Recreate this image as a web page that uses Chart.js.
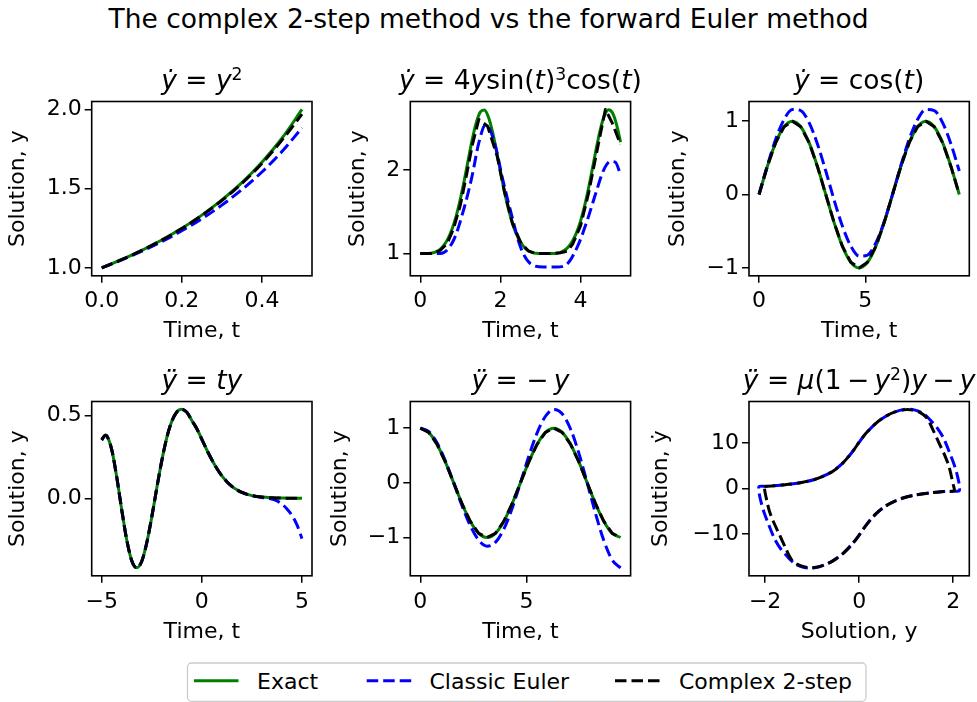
<!DOCTYPE html>
<html>
<head>
<meta charset="utf-8">
<script src="https://cdn.jsdelivr.net/npm/chart.js@4.4.1/dist/chart.umd.min.js"></script>
<style>
  html, body { margin: 0; padding: 0; background: #fff; }
  body { width: 977px; height: 702px; position: relative; overflow: hidden; font-family: "DejaVu Sans", sans-serif; }
  .panel { position: absolute; }
  #overlay { position: absolute; left: 0; top: 0; pointer-events: none; }
</style>
</head>
<body>
<svg id="overlay" width="977" height="702" xmlns="http://www.w3.org/2000/svg" font-family="DejaVu Sans, sans-serif">
  <text x="488.5" y="28.3" text-anchor="middle" font-size="26.5" fill="#000">The complex 2-step method vs the forward Euler method</text>
  <g id="legend"></g>
</svg>
<script>
const seriesNames = ['Exact', 'Classic Euler', 'Complex 2-step'];

// dy/dt = y^2
const t1 = [0, 0.05, 0.1, 0.15, 0.2, 0.25, 0.3, 0.35, 0.4, 0.45, 0.5];
const exact1 = [1.0, 1.053, 1.111, 1.176, 1.25, 1.333, 1.429, 1.538, 1.667, 1.818, 2.0];
const euler1 = [1.0, 1.05, 1.105, 1.166, 1.234, 1.31, 1.396, 1.494, 1.605, 1.734, 1.884];
const step1 = [1.0, 1.052, 1.11, 1.175, 1.248, 1.331, 1.425, 1.533, 1.659, 1.806, 1.97];

// dy/dt = 4y sin(t)^3 cos(t)
const t2 = [0, 0.1, 0.2, 0.3, 0.4, 0.5, 0.6, 0.7, 0.8, 0.9, 1.0, 1.1, 1.2, 1.3, 1.4, 1.5, 1.6, 1.7, 1.8, 1.9,
  2.0, 2.1, 2.2, 2.3, 2.4, 2.5, 2.6, 2.7, 2.8, 2.9, 3.0, 3.1, 3.2, 3.3, 3.4, 3.5, 3.6, 3.7, 3.8, 3.9,
  4.0, 4.1, 4.2, 4.3, 4.4, 4.5, 4.6, 4.7, 4.8, 4.9, 5.0];
const exact2 = [1.0, 1.0001, 1.0016, 1.0077, 1.0233, 1.0543, 1.107, 1.188, 1.3032, 1.4572,
  1.651, 1.8793, 2.1269, 2.368, 2.5678, 2.6912, 2.7137, 2.6303, 2.4582, 2.2297,
  1.981, 1.7423, 1.5331, 1.3624, 1.2314, 1.1369, 1.0732, 1.0339, 1.0127, 1.0033,
  1.0004, 1.0, 1.0, 1.0006, 1.0043, 1.0153, 1.0391, 1.082, 1.1504, 1.2508,
  1.3882, 1.5657, 1.7807, 2.0229, 2.2705, 2.4921, 2.6512, 2.7174, 2.6771, 2.5387, 2.3293];
const tEuler2 = [0, 0.3, 0.5, 0.83, 1.08, 1.29, 1.46, 1.63, 1.83, 2.08, 2.29, 2.5, 2.75, 3.08, 3.4, 3.65, 3.92, 4.17, 4.38, 4.58, 4.75, 4.87, 5.0];
const euler2 = [1.0, 1.0, 1.0, 1.16, 1.52, 1.92, 2.32, 2.54, 2.36, 1.84, 1.44, 1.08, 0.88, 0.84, 0.84, 0.87, 1.08, 1.4, 1.72, 2.0, 2.1, 2.09, 1.94];
const tStep2 = [0, 0.33, 0.5, 0.67, 0.83, 1.0, 1.15, 1.3, 1.46, 1.68, 1.92, 2.1, 2.3, 2.5, 2.7, 2.9, 3.2, 3.5, 3.67, 3.8, 4.0, 4.2, 4.4, 4.62, 4.79, 5.0];
const step2 = [1.0, 1.0, 1.04, 1.12, 1.3, 1.58, 1.93, 2.3, 2.6, 2.52, 2.16, 1.74, 1.36, 1.14, 1.03, 1.0, 1.0, 1.01, 1.03, 1.11, 1.33, 1.72, 2.2, 2.72, 2.56, 2.3];

// dy/dt = cos(t)
const t3 = [0, 0.393, 0.785, 1.178, 1.571, 1.963, 2.356, 2.749, 3.142, 3.534, 3.927, 4.32, 4.712,
  5.105, 5.498, 5.89, 6.283, 6.676, 7.069, 7.461, 7.854, 8.247, 8.639, 9.032, 9.425];
const exact3 = [0, 0.383, 0.707, 0.924, 1, 0.924, 0.707, 0.383, 0, -0.383, -0.707, -0.924, -1,
  -0.924, -0.707, -0.383, 0, 0.383, 0.707, 0.924, 1, 0.924, 0.707, 0.383, 0];
const euler3 = [0, 0.395, 0.754, 1.023, 1.16, 1.145, 0.98, 0.69, 0.32, -0.075, -0.434, -0.703, -0.84,
  -0.825, -0.66, -0.371, 0, 0.395, 0.754, 1.023, 1.16, 1.145, 0.98, 0.69, 0.32];
const step3 = [0, 0.383, 0.707, 0.924, 1, 0.924, 0.707, 0.383, 0, -0.383, -0.707, -0.924, -1,
  -0.924, -0.707, -0.383, 0, 0.383, 0.707, 0.924, 1, 0.924, 0.707, 0.383, 0];

// d2y/dt2 = t y
const t4 = [-5, -4.82, -4.75, -4.5, -4.25, -4, -3.75, -3.5, -3.25, -3, -2.75, -2.5, -2.25, -2, -1.75, -1.5,
  -1.25, -1.02, -0.75, -0.5, -0.25, 0, 0.25, 0.5, 0.75, 1, 1.25, 1.5, 1.75, 2, 2.5, 3, 3.5, 4, 4.5, 5];
const exact4 = [0.351, 0.38, 0.376, 0.293, 0.128, -0.07, -0.251, -0.376, -0.419, -0.379, -0.268, -0.112, 0.062, 0.227, 0.365, 0.464,
  0.52, 0.536, 0.518, 0.468, 0.419, 0.355, 0.291, 0.232, 0.179, 0.135, 0.1, 0.072, 0.051, 0.035, 0.016, 0.007, 0.003, 0.001, 0.0003, 0.0001];
const tEuler4 = [-5, -4.82, -4.75, -4.5, -4.25, -4, -3.75, -3.5, -3.25, -3, -2.75, -2.5, -2.25, -2, -1.75, -1.5,
  -1.25, -1.02, -0.75, -0.5, -0.25, 0, 0.25, 0.5, 0.75, 1, 1.25, 1.5, 1.75, 2, 2.5, 3, 3.5, 3.75, 4, 4.25, 4.5, 4.75, 5];
const euler4 = [0.351, 0.38, 0.376, 0.293, 0.128, -0.07, -0.251, -0.376, -0.419, -0.379, -0.268, -0.112, 0.062, 0.227, 0.365, 0.464,
  0.52, 0.536, 0.518, 0.468, 0.419, 0.355, 0.291, 0.232, 0.179, 0.135, 0.1, 0.072, 0.051, 0.035, 0.016, 0.005, -0.005, -0.016, -0.035, -0.064, -0.103, -0.16, -0.243];
const step4 = [0.351, 0.38, 0.376, 0.293, 0.128, -0.07, -0.251, -0.376, -0.419, -0.379, -0.268, -0.112, 0.062, 0.227, 0.365, 0.464,
  0.52, 0.536, 0.518, 0.468, 0.419, 0.355, 0.291, 0.232, 0.179, 0.135, 0.1, 0.072, 0.051, 0.035, 0.016, 0.007, 0.003, 0.001, 0.0003, 0.0001];

// d2y/dt2 = -y
const t5 = t3;
const exact5 = [1, 0.924, 0.707, 0.383, 0, -0.383, -0.707, -0.924, -1, -0.924, -0.707, -0.383, 0,
  0.383, 0.707, 0.924, 1, 0.924, 0.707, 0.383, 0, -0.383, -0.707, -0.924, -1];
const euler5 = [1, 0.941, 0.734, 0.404, 0, -0.42, -0.79, -1.051, -1.159, -1.091, -0.85, -0.469, 0,
  0.486, 0.916, 1.219, 1.344, 1.264, 0.986, 0.543, 0, -0.564, -1.061, -1.413, -1.557];
const step5 = [1, 0.924, 0.707, 0.383, 0, -0.383, -0.707, -0.924, -1, -0.924, -0.707, -0.383, 0,
  0.383, 0.707, 0.924, 1, 0.924, 0.707, 0.383, 0, -0.383, -0.707, -0.924, -1];

// Van der Pol phase plane (y, dy/dt)
const y6 = [-2.02, -1.8, -1.5, -1.2, -0.95, -0.75, -0.55, -0.35, -0.15, 0, 0.15, 0.35, 0.55, 0.75, 0.95, 1.1, 1.3, 1.45, 1.57, 1.7, 1.83, 1.91, 1.96, 2.0, 2.02,
  1.8, 1.5, 1.2, 0.95, 0.75, 0.55, 0.35, 0.15, 0, -0.15, -0.35, -0.55, -0.75, -0.95, -1.1, -1.3, -1.45, -1.57, -1.7, -1.83, -1.91, -1.96, -2.0, -2.02, -2.02];
const v6 = [0.5, 0.65, 0.95, 1.4, 2.0, 2.8, 3.9, 5.6, 8.0, 10.2, 12.2, 14.3, 15.8, 16.8, 17.3, 17.3, 16.7, 15.4, 12.9, 10.0, 7.1, 4.9, 2.8, 0.9, -0.45,
  -0.65, -0.95, -1.4, -2.0, -2.8, -3.9, -5.6, -8.0, -10.2, -12.2, -14.3, -15.8, -16.8, -17.3, -17.3, -16.7, -15.4, -12.9, -10.0, -7.1, -4.9, -2.8, -0.9, 0.45, 0.5];
const yEuler6 = [-2.02, -1.8, -1.5, -1.2, -0.95, -0.75, -0.55, -0.35, -0.15, 0, 0.15, 0.35, 0.55, 0.75, 0.95, 1.17, 1.35, 1.52, 1.67, 1.8, 1.92, 2.02, 2.09, 2.13, 2.13, 2.05,
  1.8, 1.5, 1.2, 0.95, 0.75, 0.55, 0.35, 0.15, 0, -0.15, -0.35, -0.55, -0.75, -0.95, -1.17, -1.35, -1.52, -1.67, -1.8, -1.92, -2.02, -2.09, -2.13, -2.13, -2.05, -2.02];
const vEuler6 = [0.5, 0.65, 0.95, 1.4, 2.0, 2.8, 3.9, 5.6, 8.0, 10.2, 12.2, 14.3, 15.8, 16.8, 17.4, 17.3, 16.6, 15.0, 13.2, 11.0, 8.0, 5.3, 2.8, 0.8, -0.45, -0.55,
  -0.65, -0.95, -1.4, -2.0, -2.8, -3.9, -5.6, -8.0, -10.2, -12.2, -14.3, -15.8, -16.8, -17.4, -17.3, -16.6, -15.0, -13.2, -11.0, -8.0, -5.3, -2.8, -0.8, 0.45, 0.55, 0.5];

// ticks
const xTicks = [[0, 0.2, 0.4], [0, 2, 4], [0, 5], [-5, 0, 5], [0, 5], [-2, 0, 2]];
const xTickLabels = [['0.0', '0.2', '0.4'], ['0', '2', '4'], ['0', '5'], ['\u22125', '0', '5'], ['0', '5'], ['\u22122', '0', '2']];
const yTicks = [[1, 1.5, 2], [1, 2], [-1, 0, 1], [0, 0.5], [-1, 0, 1], [-10, 0, 10]];
const yTickLabels = [['1.0', '1.5', '2.0'], ['1', '2'], ['\u22121', '0', '1'], ['0.0', '0.5'], ['\u22121', '0', '1'], ['\u221210', '0', '10']];
const xRanges = [[-0.025, 0.525], [-0.25, 5.25], [-0.471, 9.896], [-5.5, 5.5], [-0.471, 9.896], [-2.343, 2.343]];
const yRanges = [[0.95, 2.05], [0.7355, 2.8145], [-1.108, 1.268], [-0.467, 0.583], [-1.702, 1.489], [-19.14, 19.14]];
const xTitles = ['Time, t', 'Time, t', 'Time, t', 'Time, t', 'Time, t', 'Solution, y'];
const yTitles = ['Solution, y', 'Solution, y', 'Solution, y', 'Solution, y', 'Solution, y', 'Solution, \u1E8F'];
// subplot titles as [text, style] runs: n = upright, i = italic, sup = superscript
const titles = [
  [['\u1E8F', 'i'], [' = ', 'n'], ['y', 'i'], ['2', 'sup']],
  [['\u1E8F', 'i'], [' = 4', 'n'], ['y', 'i'], ['sin(', 'n'], ['t', 'i'], [')', 'n'], ['3', 'sup'], ['cos(', 'n'], ['t', 'i'], [')', 'n']],
  [['\u1E8F', 'i'], [' = cos(', 'n'], ['t', 'i'], [')', 'n']],
  [['\u00FF', 'i'], [' = ', 'n'], ['ty', 'i']],
  [['\u00FF', 'i'], [' = \u2212\u2009', 'n'], ['y', 'i']],
  [['\u00FF', 'i'], [' = ', 'n'], ['\u03BC', 'i'], ['(1\u2009\u2212\u2009', 'n'], ['y', 'i'], ['2', 'sup'], [')', 'n'], ['y', 'i'], ['\u2009\u2212\u2009', 'n'], ['y', 'i']]
];

// series per panel: [styleIndex, xs, ys, mode]
const panelSeries = [
  [[0, t1, exact1, 'smooth'], [1, t1, euler1, 'smooth'], [2, t1, step1, 'smooth']],
  [[0, t2, exact2, 'smooth'], [1, tEuler2, euler2, 'smooth'], [2, tStep2, step2, 'poly']],
  [[0, t3, exact3, 'smooth'], [1, t3, euler3, 'smooth'], [2, t3, step3, 'poly']],
  [[0, t4, exact4, 'smooth'], [1, tEuler4, euler4, 'smooth'], [2, t4, step4, 'smooth']],
  [[0, t5, exact5, 'smooth'], [1, t5, euler5, 'smooth'], [2, t5, step5, 'poly']],
  [[1, yEuler6, vEuler6, 'loop'], [2, y6, v6, 'loop']]
];

const styles = [
  {color: '#008000', dash: []},
  {color: '#0000ff', dash: [11.5, 5]},
  {color: '#000000', dash: [11.5, 5]}
];

// page layout (matches the reference figure)
const colLeft = [91.7, 410.3, 749];
const rowTop = [101.5, 401.5];
const plotW = 220.3, plotH = 174.3;
const yTitleX = [[18, 358, 678], [18, 340, 661]];
const xTitleY = [331, 632];
const FS = 22;
const HALF = FS * 1.2 / 2;

Chart.defaults.font.family = '"DejaVu Sans", sans-serif';
Chart.defaults.font.size = FS;
Chart.defaults.color = '#000';

function titleFrame(parts) {
  return {
    id: 'titleFrame',
    afterDraw(chart) {
      const {ctx, chartArea: a} = chart;
      ctx.save();
      ctx.strokeStyle = '#000';
      ctx.lineWidth = 1.6;
      ctx.strokeRect(a.left, a.top, a.right - a.left, a.bottom - a.top);
      const size = 26.5;
      const fontOf = s => s === 'i' ? `italic ${size}px "DejaVu Sans"` :
        s === 'sup' ? `${size * 0.65}px "DejaVu Sans"` : `${size}px "DejaVu Sans"`;
      let total = 0;
      const widths = parts.map(([txt, s]) => {
        ctx.font = fontOf(s);
        const w = ctx.measureText(txt).width;
        total += w;
        return w;
      });
      let x = (a.left + a.right) / 2 - total / 2;
      const base = a.top - 13;
      ctx.fillStyle = '#000';
      ctx.textAlign = 'left';
      ctx.textBaseline = 'alphabetic';
      parts.forEach(([txt, s], i) => {
        ctx.font = fontOf(s);
        ctx.fillText(txt, x, s === 'sup' ? base - size * 0.32 : base);
        x += widths[i];
      });
      ctx.restore();
    }
  };
}

function makeDataset([s, xs, ys, mode]) {
  const st = styles[s];
  return {
    label: seriesNames[s],
    data: xs.map((x, i) => ({x: x, y: ys[i]})),
    borderColor: st.color,
    backgroundColor: st.color,
    borderWidth: 3,
    borderDash: st.dash,
    // the loop panel: offset the blue dashes so they show in the black gaps
    borderDashOffset: mode === 'loop' && s === 1 ? 8 : 0,
    borderCapStyle: 'butt',
    borderJoinStyle: 'round',
    pointRadius: 0,
    fill: false,
    tension: mode === 'poly' ? 0 : (mode === 'loop' ? 0.3 : 0.4),
    cubicInterpolationMode: mode === 'smooth' ? 'monotone' : 'default',
    order: 3 - s
  };
}

panelSeries.forEach((series, k) => {
  const row = Math.floor(k / 3), col = k % 3;
  const L = colLeft[col], T = rowTop[row], R = L + plotW, B = T + plotH;
  const yTx = yTitleX[row][col], xTy = xTitleY[row];
  const cl = Math.floor(yTx - HALF), ct = Math.floor(T - 70);
  const cr = Math.ceil(R + 20), cb = Math.ceil(xTy + HALF + 1);

  const div = document.createElement('div');
  div.className = 'panel';
  div.style.left = cl + 'px';
  div.style.top = ct + 'px';
  div.style.width = (cr - cl) + 'px';
  div.style.height = (cb - ct) + 'px';
  const cv = document.createElement('canvas');
  div.appendChild(cv);
  document.body.appendChild(div);

  const gridOpts = {display: true, drawOnChartArea: false, drawTicks: true, tickLength: 7, color: '#000', lineWidth: 1.5};

  new Chart(cv, {
    type: 'line',
    data: {datasets: series.map(makeDataset)},
    options: {
      responsive: true,
      maintainAspectRatio: false,
      animation: false,
      events: [],
      layout: {padding: {top: T - ct, right: cr - R, left: 0, bottom: 0}},
      plugins: {legend: {display: false}, tooltip: {enabled: false}},
      scales: {
        x: {
          type: 'linear',
          min: xRanges[k][0], max: xRanges[k][1],
          afterFit: s => { s.height = cb - B; },
          afterBuildTicks: s => { s.ticks = xTicks[k].map(v => ({value: v})); },
          ticks: {callback: (v, i) => xTickLabels[k][i], padding: row === 0 ? 5 : 6, maxRotation: 0, autoSkip: false, color: '#000'},
          grid: gridOpts,
          border: {display: false},
          title: {display: true, text: xTitles[k], color: '#000', padding: {top: 0, bottom: cb - xTy - HALF}}
        },
        y: {
          type: 'linear',
          min: yRanges[k][0], max: yRanges[k][1],
          afterFit: s => { s.width = L - cl; },
          afterBuildTicks: s => { s.ticks = yTicks[k].map(v => ({value: v})); },
          ticks: {callback: (v, i) => yTickLabels[k][i], padding: 3, autoSkip: false, color: '#000'},
          grid: gridOpts,
          border: {display: false},
          title: {display: true, text: yTitles[k], color: '#000', padding: {top: yTx - cl - HALF, bottom: 0}}
        }
      }
    },
    plugins: [titleFrame(titles[k])]
  });
});

// legend below the panels
const legendX = [194, 366.7, 615];
const legendTextX = [257, 429.5, 679];
const NS = 'http://www.w3.org/2000/svg';
const lg = document.getElementById('legend');
function el(tag, attrs, text) {
  const e = document.createElementNS(NS, tag);
  Object.entries(attrs).forEach(([a, v]) => e.setAttribute(a, v));
  if (text) e.textContent = text;
  lg.appendChild(e);
  return e;
}
el('rect', {x: 187.5, y: 663, width: 678.5, height: 38.3, rx: 4, fill: '#fff', stroke: '#cccccc', 'stroke-width': 1.3});
seriesNames.forEach((name, i) => {
  const st = styles[i];
  el('line', {x1: legendX[i], y1: 680.8, x2: legendX[i] + 44.5, y2: 680.8, stroke: st.color, 'stroke-width': 3,
    'stroke-dasharray': st.dash.length ? st.dash.join(' ') : 'none'});
  el('text', {x: legendTextX[i], y: 689.2, 'font-size': FS, fill: '#000'}, name);
});
</script>
</body>
</html>
